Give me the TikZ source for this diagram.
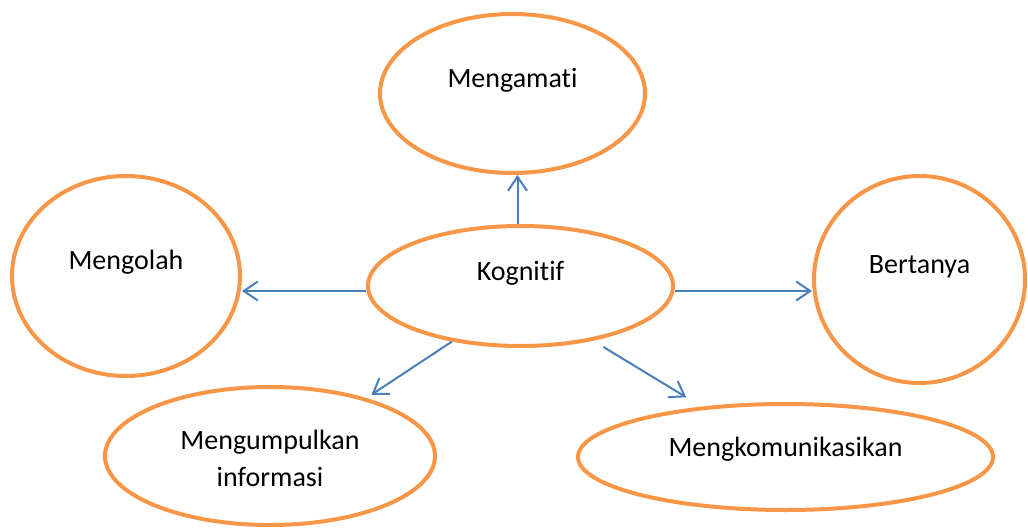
\documentclass[tikz,border=0pt]{standalone}
\usepackage{fontspec}
\setmainfont{Carlito}[Ligatures=NoCommon]
\usetikzlibrary{shapes.geometric,arrows.meta}
\definecolor{bubbleorange}{HTML}{F79646}
\definecolor{arrowblue}{HTML}{4A7EBB}
\tikzset{
	bubble/.style={ellipse, draw=bubbleorange, line width=4pt, inner sep=0pt},
	word/.style={font=\fontsize{28}{37}\selectfont, align=center, inner sep=0pt},
	link/.style={arrowblue, line width=2pt, -{Straight Barb[length=14pt,width=19pt]}}
}
\begin{document}
\begin{tikzpicture}[x=1pt,y=-1pt]
		\useasboundingbox (0,0) rectangle (1028,530);
		\node[bubble, minimum width=265pt, minimum height=159pt] (mengamati) at (512.5,93.5) {};
		\node[bubble, minimum width=305pt, minimum height=120pt] (kognitif) at (520.5,286) {};
		\node[bubble, minimum width=228pt, minimum height=200pt] (mengolah) at (126,276) {};
		\node[bubble, minimum width=211pt, minimum height=207pt] (bertanya) at (919.5,279.5) {};
		\node[bubble, minimum width=330pt, minimum height=138pt] (kumpul) at (270,456) {};
		\node[bubble, minimum width=415pt, minimum height=106pt] (komunikasi) at (785.5,457) {};
		\node[word] (mengamati-txt) at ([yshift=13pt]mengamati.center) {Mengamati};
		\node[word] (kognitif-txt) at ([yshift=13pt]kognitif.center) {Kognitif};
		\node[word] (mengolah-txt) at ([yshift=14pt]mengolah.center) {Mengolah};
		\node[word] (bertanya-txt) at ([yshift=13pt]bertanya.center) {Bertanya};
		\node[word] (kumpul-txt) at ([yshift=-2pt]kumpul.center) {Mengumpulkan\\informasi};
		\node[word] (komunikasi-txt) at ([yshift=8pt]komunikasi.center) {Mengkomunikasikan};
		\draw [link] ([xshift=-3pt]kognitif.north) -- ([xshift=-3pt]kognitif.north |- mengamati.south);
		\draw [link] ([yshift=-5pt]kognitif.west) -- ([yshift=-5pt]kognitif.west -| mengolah.east);
		\draw [link] ([yshift=-5pt]kognitif.east) -- ([yshift=-5pt]kognitif.east -| bertanya.west);
		\draw [link, shorten >=6pt] (kognitif.219) -- (kumpul.31);
		\draw [link, shorten <=12pt, shorten >=18pt] (kognitif.323) -- (komunikasi.149);
		\end{tikzpicture}
\end{document}
